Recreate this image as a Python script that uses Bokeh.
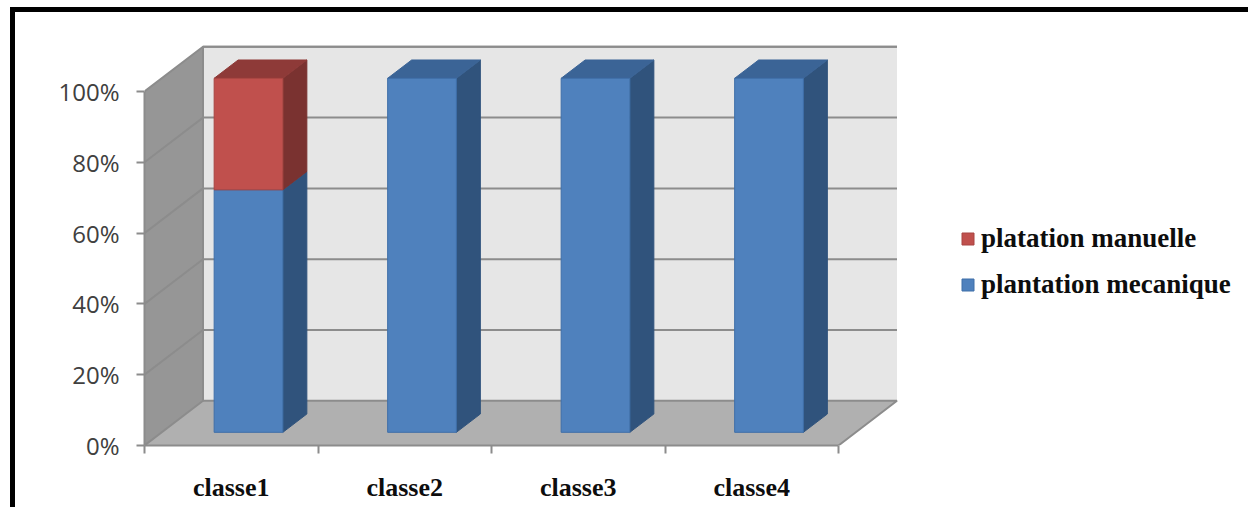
from bokeh.embed import file_html
from bokeh.resources import INLINE
from bokeh.plotting import figure
from bokeh.models import (FixedTicker, Legend, LegendItem, LinearAxis,
                          PrintfTickFormatter, Range1d)

# Chart data
classes = ["classe1", "classe2", "classe3", "classe4"]
plantation_mecanique = [68.5, 100, 100, 100]
platation_manuelle = [31.5, 0, 0, 0]
y_ticks = [0, 20, 40, 60, 80, 100]

# Pixels per data unit, and the oblique offset of the chart's full depth
CAT_PX = 173.5
PCT_PX = 3.54
DEPTH_X = 58.5 / CAT_PX
DEPTH_Y = 44.7 / PCT_PX
BAR_WIDTH = 0.396
BAR_DEPTH = (0.295, 0.705)

BLUE = ("#4F81BD", "#30537C", "#3B6496", "#3F6FA8")
RED = ("#C0504D", "#7A3230", "#8E3A38", "#A84542")
AXIS_GREY = "#8C8C8C"

# Heavy black edge along the top and left of the page
FRAME_CSS = ("linear-gradient(black, black) 10px 7px / 1238px 5px no-repeat, "
             "linear-gradient(black, black) 10px 7px / 5px 500px no-repeat, white")


def proj(x, y, d=0.0):
    """Oblique projection of a point at depth d (0 front, 1 back)."""
    return x + d * DEPTH_X, y + d * DEPTH_Y


def face(points):
    xs, ys = zip(*[proj(*pt) for pt in points])
    return list(xs), list(ys)


p = figure(width=1248, height=507, output_backend="svg", toolbar_location=None,
           x_axis_location=None, y_axis_location=None,
           frame_width=1104, frame_height=445,
           min_border_left=144, min_border_right=0, min_border_top=0, min_border_bottom=62,
           x_range=Range1d(0, 1104 / CAT_PX), y_range=Range1d(0, 445 / PCT_PX),
           outline_line_color=None, background_fill_color=None, border_fill_color=None,
           styles={"background": FRAME_CSS})
p.grid.visible = False

n = len(classes)

# Back wall, side wall and floor
bx, by = face([(0, 0, 1), (n, 0, 1), (n, 100, 1), (0, 100, 1)])
p.patch(bx, by, fill_color="#E6E6E6", line_color=None)
wx, wy = face([(0, 0, 0), (0, 0, 1), (0, 100, 1), (0, 100, 0)])
p.patch(wx, wy, fill_color="#969696", line_color=None)

# Gridlines run along the back wall and across the side wall
for t in y_ticks[1:]:
    gx, gy = face([(0, t, 0), (0, t, 1), (n, t, 1)])
    p.line(gx, gy, line_color=AXIS_GREY, line_width=2)

fx, fy = face([(0, 0, 0), (n, 0, 0), (n, 0, 1), (0, 0, 1)])
p.patch(fx, fy, fill_color="#B0B0B0", line_color=None)
ex, ey = face([(0, 0, 1), (n, 0, 1), (n, 0, 0)])
p.line(ex, ey, line_color=AXIS_GREY, line_width=2)
ex, ey = face([(0, 0, 0), (0, 0, 1), (0, 100, 1), (n, 100, 1)])
p.line(ex, ey, line_color=AXIS_GREY, line_width=2)


def segment_faces(lows, highs):
    fronts, sides, tops = ([], []), ([], []), ([], [])
    d0, d1 = BAR_DEPTH
    for i, (lo, hi) in enumerate(zip(lows, highs)):
        if hi <= lo:
            continue
        x0 = i + 0.5 - BAR_WIDTH / 2
        x1 = x0 + BAR_WIDTH
        for store, pts in (
            (fronts, [(x0, lo, d0), (x1, lo, d0), (x1, hi, d0), (x0, hi, d0)]),
            (sides, [(x1, lo, d0), (x1, lo, d1), (x1, hi, d1), (x1, hi, d0)]),
            (tops, [(x0, hi, d0), (x1, hi, d0), (x1, hi, d1), (x0, hi, d1)]),
        ):
            xs, ys = face(pts)
            store[0].append(xs)
            store[1].append(ys)
    return fronts, sides, tops


def draw_segment(lows, highs, colours):
    front, side, top = segment_faces(lows, highs)
    p.patches(side[0], side[1], fill_color=colours[1], line_color=colours[1], line_width=1)
    p.patches(top[0], top[1], fill_color=colours[2], line_color=colours[2], line_width=1)
    return p.patches(front[0], front[1], fill_color=colours[0], line_color=colours[3], line_width=1)


# Stacked bars, lower segment first so the upper one covers its top face
zeros = [0] * n
tops_blue = plantation_mecanique
tops_red = [a + b for a, b in zip(plantation_mecanique, platation_manuelle)]
r_blue = draw_segment(zeros, tops_blue, BLUE)
r_red = draw_segment(tops_blue, tops_red, RED)

# Value axis
y_axis = LinearAxis(ticker=FixedTicker(ticks=y_ticks), bounds=(0, 100),
                    formatter=PrintfTickFormatter(format="%d%%"),
                    axis_line_color=AXIS_GREY, axis_line_width=2,
                    major_tick_line_color=AXIS_GREY, major_tick_line_width=2,
                    major_tick_in=0, major_tick_out=8, minor_tick_line_color=None,
                    major_label_text_font="Open Sans", major_label_text_font_size="24px",
                    major_label_text_color="#404040", major_label_standoff=17)
p.add_layout(y_axis, "left")

# Category axis: ticks on the class boundaries, names centred between them
boundaries = list(range(n + 1))
x_axis = LinearAxis(ticker=FixedTicker(ticks=boundaries), bounds=(0, n),
                    major_label_overrides={b: "" for b in boundaries},
                    axis_line_color=AXIS_GREY, axis_line_width=2,
                    major_tick_line_color=AXIS_GREY, major_tick_line_width=2,
                    major_tick_in=0, major_tick_out=8, minor_tick_line_color=None,
                    major_label_standoff=0, major_label_text_font_size="1px")
p.add_layout(x_axis, "below")

centres = [i + 0.5 for i in range(n)]
name_axis = LinearAxis(ticker=FixedTicker(ticks=centres),
                       major_label_overrides=dict(zip(centres, classes)),
                       axis_line_color=None, major_tick_line_color=None,
                       minor_tick_line_color=None, major_label_standoff=13,
                       major_label_text_font="Liberation Serif",
                       major_label_text_font_style="bold",
                       major_label_text_font_size="26px",
                       major_label_text_color="#0D0D0D")
p.add_layout(name_axis, "below")

legend = Legend(items=[LegendItem(label="platation manuelle", renderers=[r_red]),
                       LegendItem(label="plantation mecanique", renderers=[r_blue])],
                location=(816, 145), orientation="vertical",
                background_fill_alpha=0, border_line_color=None, padding=0, margin=0,
                spacing=15, glyph_width=15, glyph_height=15, label_standoff=6,
                label_height=30,
                label_text_font="Liberation Serif", label_text_font_style="bold",
                label_text_font_size="27px", label_text_color="#0D0D0D")
p.add_layout(legend)

open("out.html", "w").write(file_html(p, INLINE))
